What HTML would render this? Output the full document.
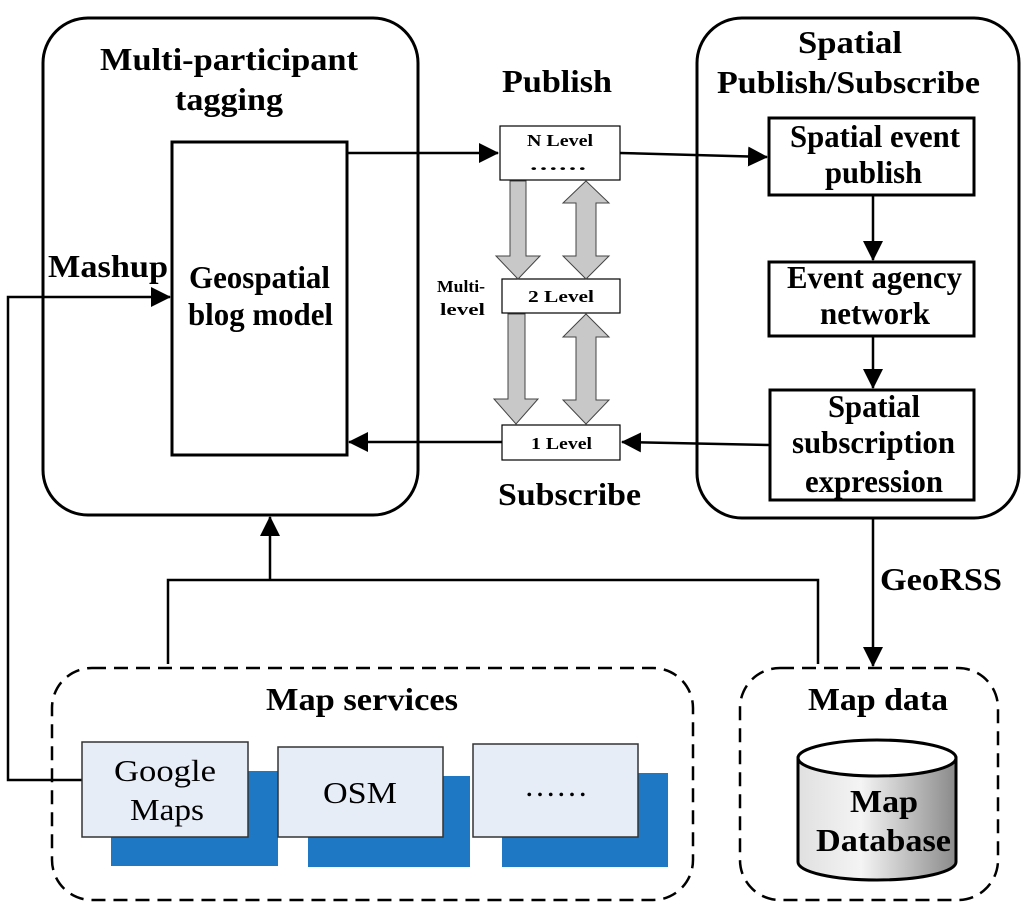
<!DOCTYPE html>
<html><head><style>
html,body{margin:0;padding:0;background:#fff}
svg{display:block}
text{font-family:"Liberation Serif",serif;font-weight:bold;fill:#000}
</style></head><body>
<svg width="1024" height="912" viewBox="0 0 1024 912" xmlns="http://www.w3.org/2000/svg">
<defs>
<marker id="a" markerWidth="14" markerHeight="14" refX="13" refY="7" orient="auto" markerUnits="userSpaceOnUse" viewBox="0 0 14 14"><path d="M0,0 L14,7 L0,14 z" fill="#000"/></marker>
<marker id="b" markerWidth="20" markerHeight="20" refX="19" refY="10" orient="auto" markerUnits="userSpaceOnUse" viewBox="0 0 20 20"><path d="M0,0 L20,10 L0,20 z" fill="#000"/></marker>
<linearGradient id="cyl" x1="0" x2="1"><stop offset="0" stop-color="#e0e0e0"/><stop offset="0.4" stop-color="#f4f4f4"/><stop offset="1" stop-color="#8a8a8a"/></linearGradient>
</defs>
<g fill="none" stroke="#000" stroke-width="3">
<rect x="43" y="18" width="375" height="497" rx="45"/>
<rect x="172" y="142" width="175" height="313"/>
<rect x="697" y="18" width="322" height="500" rx="45"/>
<rect x="769" y="118" width="205" height="77"/>
<rect x="769" y="262" width="205" height="74"/>
<rect x="770" y="390" width="204" height="110"/>
</g>
<g fill="#fff" stroke="#000" stroke-width="1.2">
<rect x="500" y="126" width="120" height="54"/>
<rect x="502" y="279" width="118" height="34"/>
<rect x="502" y="425" width="118" height="35"/>
</g>
<g fill="#c8c8c8" stroke="#444" stroke-width="1">
<path d="M510,181 L526,181 L526,256 L540,256 L518,279 L496,256 L510,256 z"/>
<path d="M586,181 L609,203 L596,203 L596,256 L609,256 L586,279 L563,256 L576,256 L576,203 L563,203 z"/>
<path d="M508,314 L525,314 L525,399 L538,399 L516,424 L494,399 L508,399 z"/>
<path d="M586,314 L609,337 L596,337 L596,400 L609,400 L586,424 L563,400 L576,400 L576,337 L563,337 z"/>
</g>
<g fill="none" stroke="#000" stroke-width="2.5">
<line x1="347" y1="153" x2="498" y2="153" marker-end="url(#b)"/>
<line x1="620" y1="153" x2="767" y2="157" marker-end="url(#b)"/>
<line x1="770" y1="445" x2="622" y2="442" marker-end="url(#b)"/>
<line x1="502" y1="442" x2="349" y2="442" marker-end="url(#b)"/>
<line x1="873" y1="195" x2="873" y2="260" marker-end="url(#b)"/>
<line x1="873" y1="336" x2="873" y2="388" marker-end="url(#b)"/>
<line x1="873" y1="518" x2="873" y2="666" marker-end="url(#b)"/>
<polyline points="82,780 8,780 8,297 170,297" marker-end="url(#b)"/>
<polyline points="168,664 168,580 818,580 818,664"/>
<line x1="270" y1="580" x2="270" y2="517" marker-end="url(#b)"/>
</g>
<g fill="none" stroke="#000" stroke-width="2.5" stroke-dasharray="14,8">
<rect x="52" y="668" width="641" height="232" rx="40"/>
<rect x="740" y="668" width="258" height="232" rx="40"/>
</g>
<g fill="#1f78c4">
<rect x="111" y="771" width="167" height="95"/>
<rect x="308" y="776" width="162" height="91"/>
<rect x="502" y="773" width="166" height="94"/>
</g>
<g fill="#e6edf7" stroke="#333" stroke-width="1.5">
<rect x="82" y="742" width="166" height="95"/>
<rect x="278" y="747" width="165" height="90"/>
<rect x="473" y="744" width="165" height="93"/>
</g>
<g stroke="#000" stroke-width="3">
<path d="M798,758 L798,862 A79,18 0 0 0 956,862 L956,758 z" fill="url(#cyl)"/>
<ellipse cx="877" cy="758" rx="79" ry="18" fill="#fff"/>
</g>
<g font-size="32" lengthAdjust="spacingAndGlyphs">
<text x="100" y="70" textLength="258" lengthAdjust="spacingAndGlyphs">Multi-participant</text>
<text x="175" y="110" textLength="108" lengthAdjust="spacingAndGlyphs">tagging</text>
<text x="502" y="92" textLength="110" lengthAdjust="spacingAndGlyphs">Publish</text>
<text x="798" y="53" textLength="104" lengthAdjust="spacingAndGlyphs">Spatial</text>
<text x="717" y="93" textLength="263" lengthAdjust="spacingAndGlyphs">Publish/Subscribe</text>
<text x="498" y="505" textLength="143" lengthAdjust="spacingAndGlyphs">Subscribe</text>
<text x="48" y="277" textLength="120" lengthAdjust="spacingAndGlyphs">Mashup</text>
<text x="189" y="288" textLength="141" lengthAdjust="spacingAndGlyphs">Geospatial</text>
<text x="188" y="325" textLength="145" lengthAdjust="spacingAndGlyphs">blog model</text>
<text x="790" y="147" textLength="170" lengthAdjust="spacingAndGlyphs">Spatial event</text>
<text x="825" y="183" textLength="97" lengthAdjust="spacingAndGlyphs">publish</text>
<text x="787" y="288" textLength="175" lengthAdjust="spacingAndGlyphs">Event agency</text>
<text x="820" y="324" textLength="110" lengthAdjust="spacingAndGlyphs">network</text>
<text x="828" y="417" textLength="92" lengthAdjust="spacingAndGlyphs">Spatial</text>
<text x="792" y="453" textLength="163" lengthAdjust="spacingAndGlyphs">subscription</text>
<text x="805" y="492" textLength="138" lengthAdjust="spacingAndGlyphs">expression</text>
<text x="880" y="590" textLength="122" lengthAdjust="spacingAndGlyphs">GeoRSS</text>
<text x="266" y="710" textLength="192" lengthAdjust="spacingAndGlyphs">Map services</text>
<text x="808" y="710" textLength="140" lengthAdjust="spacingAndGlyphs">Map data</text>
<text x="850" y="812" textLength="68" lengthAdjust="spacingAndGlyphs">Map</text>
<text x="816" y="851" textLength="135" lengthAdjust="spacingAndGlyphs">Database</text>
</g>
<g font-size="17">
<text x="527" y="146" textLength="66" lengthAdjust="spacingAndGlyphs">N Level</text>
<text x="529" y="170" textLength="58" lengthAdjust="spacingAndGlyphs">……</text>
<text x="528" y="302" textLength="66" lengthAdjust="spacingAndGlyphs">2 Level</text>
<text x="531" y="449" textLength="61" lengthAdjust="spacingAndGlyphs">1 Level</text>
<text x="437" y="292" textLength="48" lengthAdjust="spacingAndGlyphs">Multi-</text>
<text x="440" y="315" textLength="45" lengthAdjust="spacingAndGlyphs">level</text>
</g>
<g font-size="31">
<text x="114" y="781" textLength="102" lengthAdjust="spacingAndGlyphs" style="font-weight:normal">Google</text>
<text x="130" y="820" textLength="74" lengthAdjust="spacingAndGlyphs" style="font-weight:normal">Maps</text>
<text x="323" y="803" textLength="74" lengthAdjust="spacingAndGlyphs" style="font-weight:normal">OSM</text>
<text x="524" y="796" textLength="64" lengthAdjust="spacingAndGlyphs" style="font-weight:normal">……</text>
</g>
</svg>
</body></html>
